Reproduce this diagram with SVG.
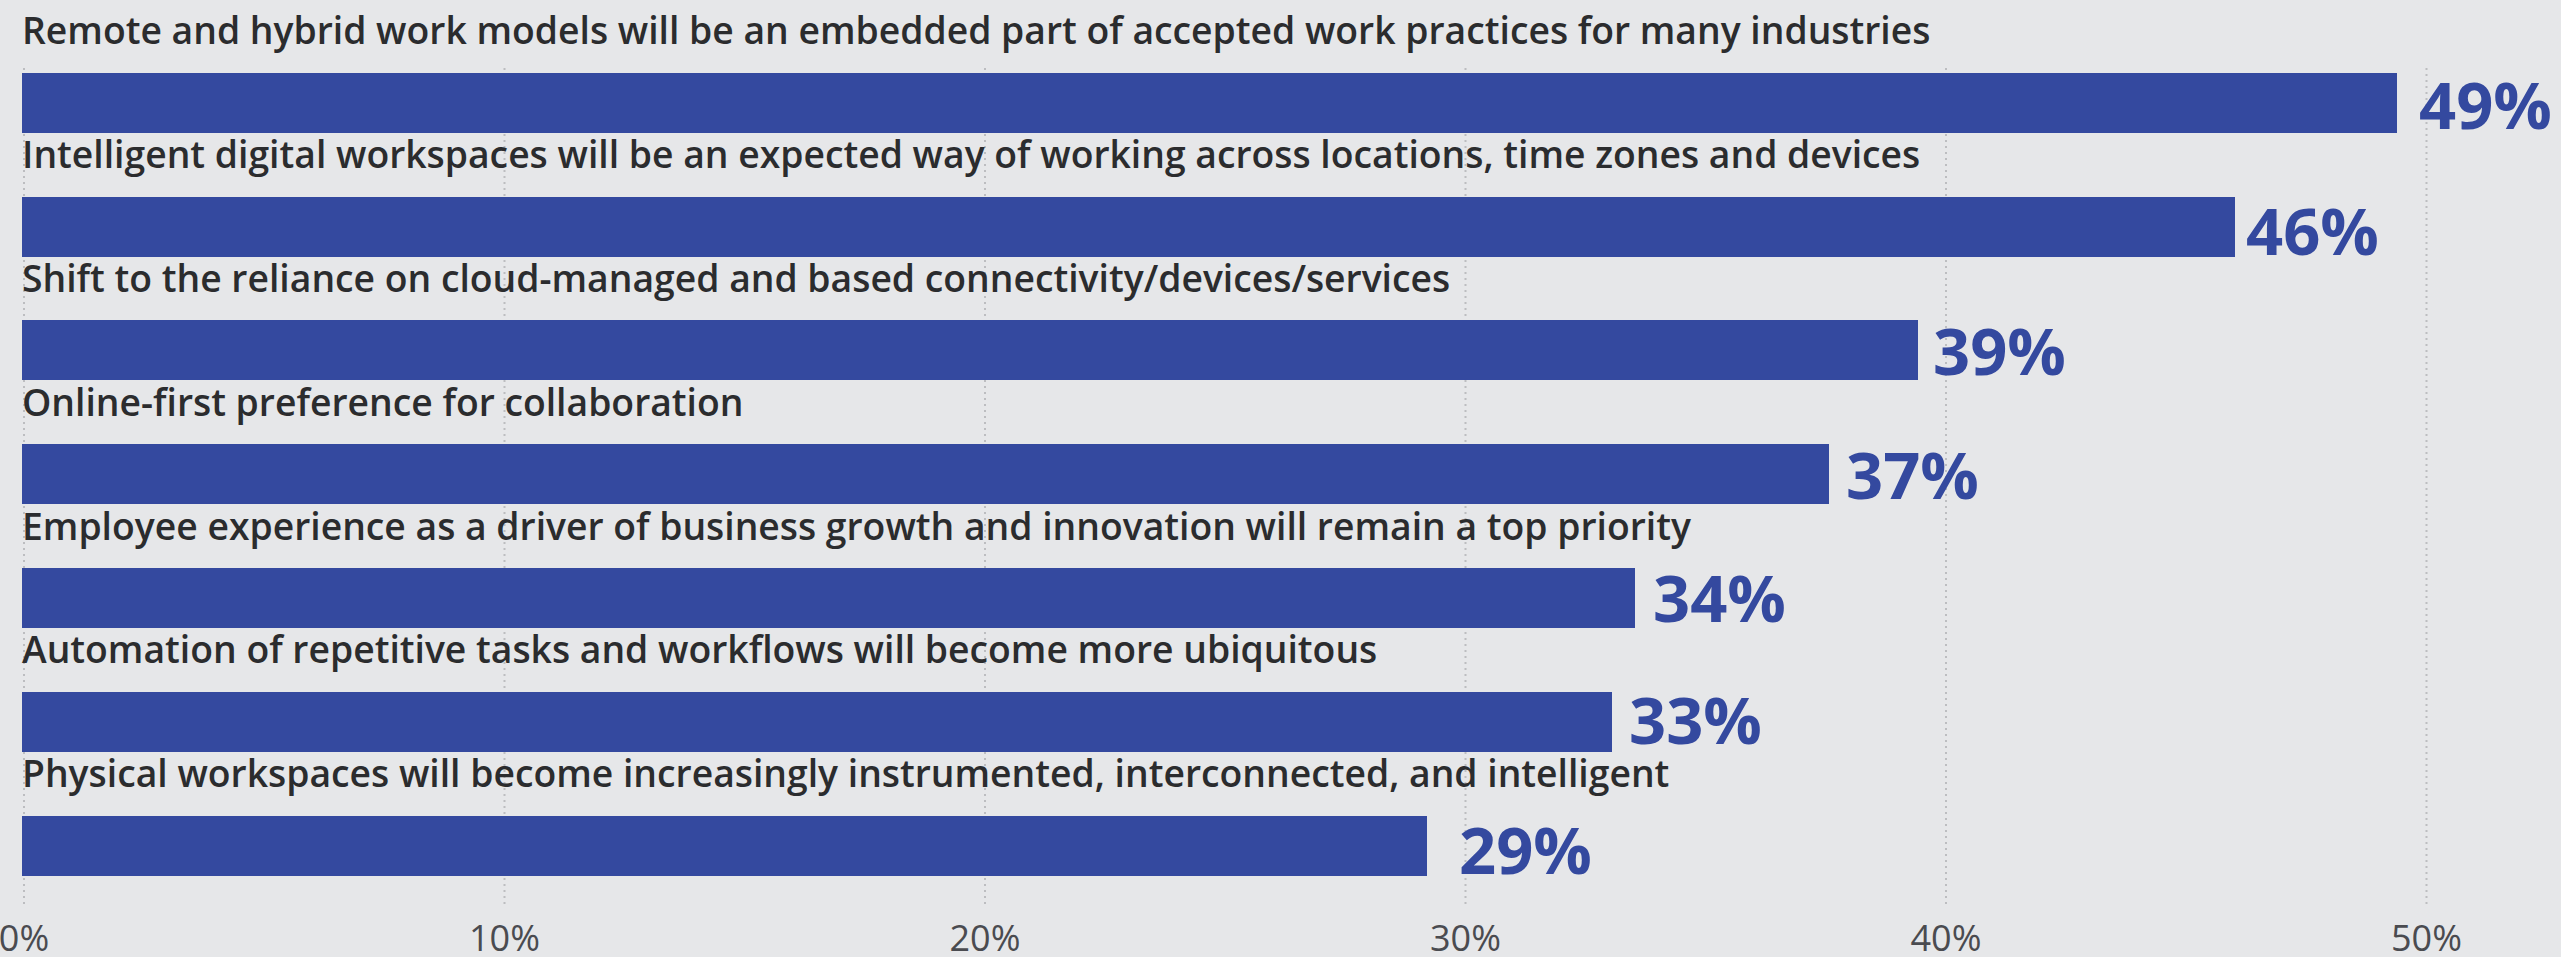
<svg xmlns="http://www.w3.org/2000/svg" width="2561" height="957" viewBox="0 0 2561 957">
<style>
.bg{fill:#e6e7e9}
.grid{stroke:#bcbdc0;stroke-width:2;stroke-dasharray:2 4;fill:none}
.bar{fill:#34499f}
.lbl{font-family:"Open Sans","Liberation Sans",sans-serif;font-size:37.3px;font-weight:600;fill:#2b2c2e}
.val{font-family:"Open Sans","Liberation Sans",sans-serif;font-size:65px;font-weight:700;fill:#34499f}
.ax{font-family:"Open Sans","Liberation Sans",sans-serif;font-size:36px;fill:#4a4b50;text-anchor:middle}
</style>
<rect class="bg" x="0" y="0" width="2561" height="957"/>
<g id="grid">
<line class="grid" x1="24" y1="68" x2="24" y2="907"/>
<line class="grid" x1="504.5" y1="68" x2="504.5" y2="907"/>
<line class="grid" x1="985" y1="68" x2="985" y2="907"/>
<line class="grid" x1="1465.5" y1="68" x2="1465.5" y2="907"/>
<line class="grid" x1="1946" y1="68" x2="1946" y2="907"/>
<line class="grid" x1="2426.5" y1="68" x2="2426.5" y2="907"/>
</g>
<g id="axis">
<text class="ax" x="24" y="951">0%</text>
<text class="ax" x="504.5" y="951">10%</text>
<text class="ax" x="985" y="951">20%</text>
<text class="ax" x="1465.5" y="951">30%</text>
<text class="ax" x="1946" y="951">40%</text>
<text class="ax" x="2426.5" y="951">50%</text>
</g>
<g id="row1">
<text class="lbl" x="22" y="44">Remote and hybrid work models will be an embedded part of accepted work practices for many industries</text>
<rect class="bar" x="22" y="73" width="2375" height="60"/>
<text class="val" x="2419" y="129">49%</text>
</g>
<g id="row2">
<text class="lbl" x="22" y="168">Intelligent digital workspaces will be an expected way of working across locations, time zones and devices</text>
<rect class="bar" x="22" y="197" width="2213" height="60"/>
<text class="val" x="2246" y="255">46%</text>
</g>
<g id="row3">
<text class="lbl" x="22" y="292">Shift to the reliance on cloud-managed and based connectivity/devices/services</text>
<rect class="bar" x="22" y="320" width="1896" height="60"/>
<text class="val" x="1933" y="375">39%</text>
</g>
<g id="row4">
<text class="lbl" x="22" y="416">Online-first preference for collaboration</text>
<rect class="bar" x="22" y="444" width="1807" height="60"/>
<text class="val" x="1846" y="499">37%</text>
</g>
<g id="row5">
<text class="lbl" x="22" y="540">Employee experience as a driver of business growth and innovation will remain a top priority</text>
<rect class="bar" x="22" y="568" width="1613" height="60"/>
<text class="val" x="1653" y="622">34%</text>
</g>
<g id="row6">
<text class="lbl" x="22" y="663">Automation of repetitive tasks and workflows will become more ubiquitous</text>
<rect class="bar" x="22" y="692" width="1590" height="60"/>
<text class="val" x="1629" y="744">33%</text>
</g>
<g id="row7">
<text class="lbl" x="22" y="787">Physical workspaces will become increasingly instrumented, interconnected, and intelligent</text>
<rect class="bar" x="22" y="816" width="1405" height="60"/>
<text class="val" x="1459" y="874">29%</text>
</g>
</svg>
